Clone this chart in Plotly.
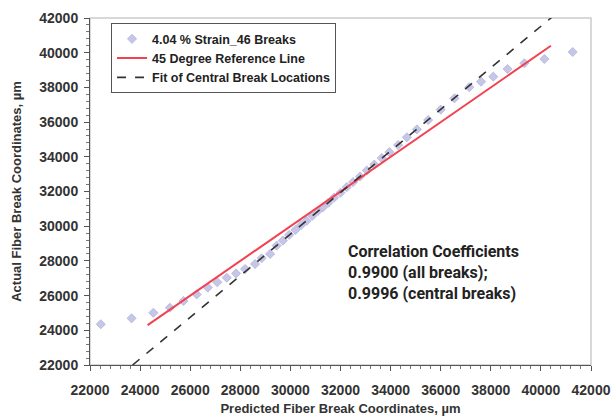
import plotly.graph_objects as go

# Measured fiber break coordinates (predicted vs. actual), in micrometres
predicted = [
    22430, 23660, 24530, 25190, 25730, 26260, 26700, 27080, 27460, 27830,
    28190, 28590, 28850, 29190,
    29450, 29700, 29950, 30200, 30420, 30650, 30880, 31100, 31300, 31520,
    31750, 32000, 32250, 32500, 32780, 33050, 33350, 33650, 33950, 34300,
    34650, 35050, 35500, 36000, 36550,
    37140, 37610, 38100, 38670, 39340, 40140, 41270,
]
actual = [
    24350, 24690, 25010, 25300, 25690, 26070, 26460, 26770, 27030, 27280,
    27530, 27820, 28150, 28400,
    28880, 29170, 29500, 29780, 30060, 30310, 30600, 30880, 31090, 31360,
    31650, 31930, 32250, 32540, 32860, 33210, 33550, 33930, 34270, 34680,
    35120, 35580, 36120, 36720, 37370,
    38010, 38330, 38620, 39060, 39390, 39640, 40040,
]

# 45 degree reference line end points
ref_x = [24300, 40400]
ref_y = [24300, 40400]

# Linear fit of the central break locations
fit_x = [23700, 40450]
fit_y = [22000, 42060]

tick_vals = list(range(22000, 42001, 2000))
tick_text = [f"<b>{v}</b>" for v in tick_vals]

fig = go.Figure()
fig.add_trace(go.Scatter(
    x=predicted, y=actual, mode="markers", name="4.04 % Strain_46 Breaks",
    marker=dict(symbol="diamond", size=7, color="#c6c6e8",
                line=dict(color="#b2b2dc", width=0.8)),
))
fig.add_trace(go.Scatter(
    x=ref_x, y=ref_y, mode="lines", name="45 Degree Reference Line",
    line=dict(color="#f2414f", width=2),
))
fig.add_trace(go.Scatter(
    x=fit_x, y=fit_y, mode="lines", name="Fit of Central Break Locations",
    line=dict(color="#333333", width=1.6, dash="dash"),
))

axis_common = dict(
    range=[22000, 42000], tickvals=tick_vals, ticktext=tick_text,
    showgrid=False, zeroline=False, showline=True, linecolor="#555555",
    linewidth=1, ticks="outside", ticklen=5, tickcolor="#555555",
    automargin=False,
    tickfont=dict(family="Liberation Sans", size=14, color="#333333"),
    minor=dict(dtick=400, ticks="outside", ticklen=3, tickcolor="#777777",
               showgrid=False),
)

fig.update_layout(
    width=612, height=416,
    margin=dict(l=90, r=21, t=18, b=51),
    paper_bgcolor="white", plot_bgcolor="white",
    font=dict(family="Liberation Sans", color="#333333"),
    xaxis=dict(**axis_common, ticklabelstandoff=7,
               title=dict(text="<b>Predicted Fiber Break Coordinates, µm</b>",
                          font=dict(size=13), standoff=10)),
    yaxis=dict(**axis_common, ticklabelstandoff=3,
               title=dict(text="<b>Actual Fiber Break Coordinates, µm</b>",
                          font=dict(size=13), standoff=14)),
    showlegend=True,
    legend=dict(
        x=0.042, y=0.985, xanchor="left", yanchor="top",
        bgcolor="white", bordercolor="#555555", borderwidth=1,
        font=dict(family="Liberation Sans", size=12.5, color="#222222",
                  weight="bold"),
        tracegroupgap=0, itemwidth=30,
    ),
    shapes=[dict(type="rect", xref="paper", yref="paper", x0=0, y0=0,
                 x1=1, y1=1, line=dict(color="#cccccc", width=1.5),
                 layer="below")],
    annotations=[dict(
        xref="paper", yref="paper", x=0.51, y=0.36,
        xanchor="left", yanchor="top", align="left", showarrow=False,
        text=("<b>Correlation Coefficients<br>0.9900 (all breaks);<br>"
              "0.9996 (central breaks)</b>"),
        font=dict(family="Roboto", size=16, color="#222222"),
    )],
)

fig.write_html("out.html")
